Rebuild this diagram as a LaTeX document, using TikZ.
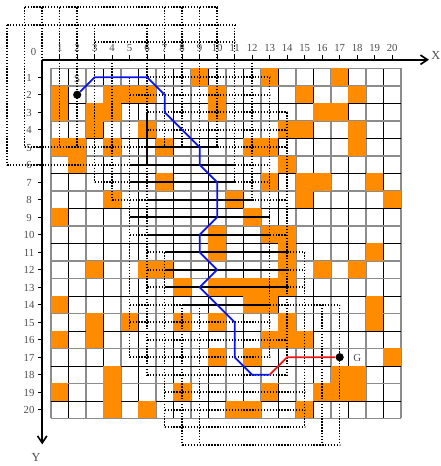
\documentclass[tikz,border=0pt]{standalone}
\usepackage{fontspec}
\setmainfont{Liberation Serif}
\usetikzlibrary{arrows.meta}
\definecolor{Obstacle}{HTML}{FF8C00}
\definecolor{GridGray}{HTML}{8C8C8C}
\definecolor{PathBlue}{HTML}{0A14F0}
\definecolor{PathRed}{HTML}{F01414}
\begin{document}
\begin{tikzpicture}[
  x=0.6cm,y=-0.6cm,
  gridthin/.style={draw=black,line width=0.9pt},
  gridwide/.style={draw=GridGray,line width=1.4pt},
  obstacle/.style={fill=Obstacle,draw=none},
  axis/.style={-{Straight Barb[length=2.4mm,width=3.2mm]},line width=1.6pt},
  axistick/.style={line width=1pt},
  scan/.style={line width=1.5pt,dash pattern=on 1.35pt off 1.495pt},
  seen/.style={line width=1.5pt},
  ticklabel/.style={font=\fontsize{10.5}{12}\selectfont,inner sep=0pt,text=black!70},
  axislabel/.style={font=\fontsize{12}{14}\selectfont,inner sep=0pt,text=black!70},
  waypoint/.style={circle,fill=black,inner sep=0pt,minimum size=8pt},
  route/.style={line width=1.7pt,line join=round}
]
\useasboundingbox (-2.411,-3.414) rectangle (22.786,23.215);
\foreach \k in {0,2,...,20} \draw[gridwide] (\k+0.5,0.5)--(\k+0.5,20.5);
\foreach \k in {1,3,...,19} \draw[gridthin] (\k+0.5,0.5)--(\k+0.5,20.5);
\foreach \k in {0,1,3,5,7,9,11,12,14,16,18,20} \draw[gridwide] (0.5,\k+0.5)--(20.5,\k+0.5);
\foreach \k in {2,4,6,8,10,13,15,17,19} \draw[gridthin] (0.5,\k+0.5)--(20.5,\k+0.5);
\foreach \c/\r in {9/1,13/1,17/1,
  1/2,4/2,5/2,6/2,10/2,15/2,18/2,
  1/3,3/3,4/3,10/3,16/3,17/3,
  3/4,6/4,14/4,15/4,18/4,
  1/5,2/5,4/5,7/5,12/5,13/5,18/5,
  2/6,14/6,
  7/7,13/7,15/7,16/7,19/7,
  4/8,11/8,15/8,20/8,
  1/9,12/9,
  10/10,13/10,14/10,
  10/11,14/11,19/11,
  3/12,6/12,7/12,14/12,16/12,18/12,
  8/13,10/13,11/13,12/13,13/13,14/13,
  1/14,12/14,13/14,19/14,
  3/15,5/15,8/15,10/15,14/15,19/15,
  1/16,3/16,13/16,14/16,15/16,
  10/17,12/17,20/17,
  4/18,17/18,18/18,
  1/19,4/19,8/19,13/19,16/19,17/19,18/19,
  4/20,6/20,11/20,12/20,15/20}
  \fill[obstacle] (\c-0.5,\r-0.5) rectangle (\c+0.5,\r+0.5);
\foreach \c/\a/\b in {-2/-2/6,-1/-3/5,0/-3/0,1/-3/5,2/-3/5,3/-2/7,4/0/8,5/1/17,
  6/-2/3,6/6/18,7/-3/5,7/11/21,8/-3/5,8/14/22,9/-3/5,9/14/22,10/-3/5,
  11/-2/7,12/0/8,13/1/17,14/3/18,15/11/21,16/14/22,17/14/22}
  \draw[scan] (\c,\a)--(\c,\b);
\foreach \r/\a/\b in {-3/-1/10,-2/-2/11,-1/3/11,1/6/13,2/5/13,3/6/14,4/6/14,
  5/-1/6,5/10/14,6/-2/5,6/11/13,7/3/5,7/11/13,8/4/6,8/12/14,10/5/6,10/13/14,
  11/6/7,11/14/15,12/6/7,12/14/15,13/6/7,13/14/15,14/5/8,14/13/17,
  15/5/13,16/6/14,17/5/13,18/6/14,19/7/15,20/7/15,21/7/15,22/8/17}
  \draw[scan] (\a,\r)--(\b,\r);
\foreach \r/\a/\b in {5/6/10,6/5/11,7/5/11,8/6/12,9/5/13,10/6/13,
  11/7/14,12/7/14,13/7/14,14/8/13}
  \draw[seen] (\a,\r)--(\b,\r);
\draw[seen] (6,3)--(6,6);
\coordinate (origin) at (0,0);
\coordinate (xend) at (22.1,0);
\coordinate (yend) at (0,21.98);
\draw[axis] (origin)--(xend);
\draw[axis] (origin)--(yend);
\foreach \k in {1,...,20} {
  \draw[axistick] (\k,0)--(\k,-0.25);
  \draw[axistick] (0,\k)--(-0.25,\k);
  \node[ticklabel] (xt\k) at (\k,-0.68) {\k};
  \node[ticklabel] (yt\k) at (-0.75,\k+0.03) {\k};
}
\node[ticklabel] (zero) at (-0.5,-0.43) {0};
\node[axislabel] (xlabel) at (22.5,-0.25) {X};
\node[axislabel] (ylabel) at (-0.35,22.75) {Y};
\node[waypoint] (start) at (2,2) {};
\node[waypoint] (goal) at (17,17) {};
\node[ticklabel] (slabel) at (2,1.1) {S};
\node[ticklabel] (glabel) at (18,17.05) {G};
\coordinate (turn) at (13,18);
\draw[route,PathBlue] (start)--(3,1)--(6,1)--(7,2)--(7,3)--(9,5)--(9,6)--(10,7)--(10,9)
  --(9,10)--(9,11)--(10,12)--(9,13)--(11,15)--(11,17)--(12,18)--(turn);
\draw[route,PathRed] (turn)--(14,17)--(goal);
\end{tikzpicture}
\end{document}
